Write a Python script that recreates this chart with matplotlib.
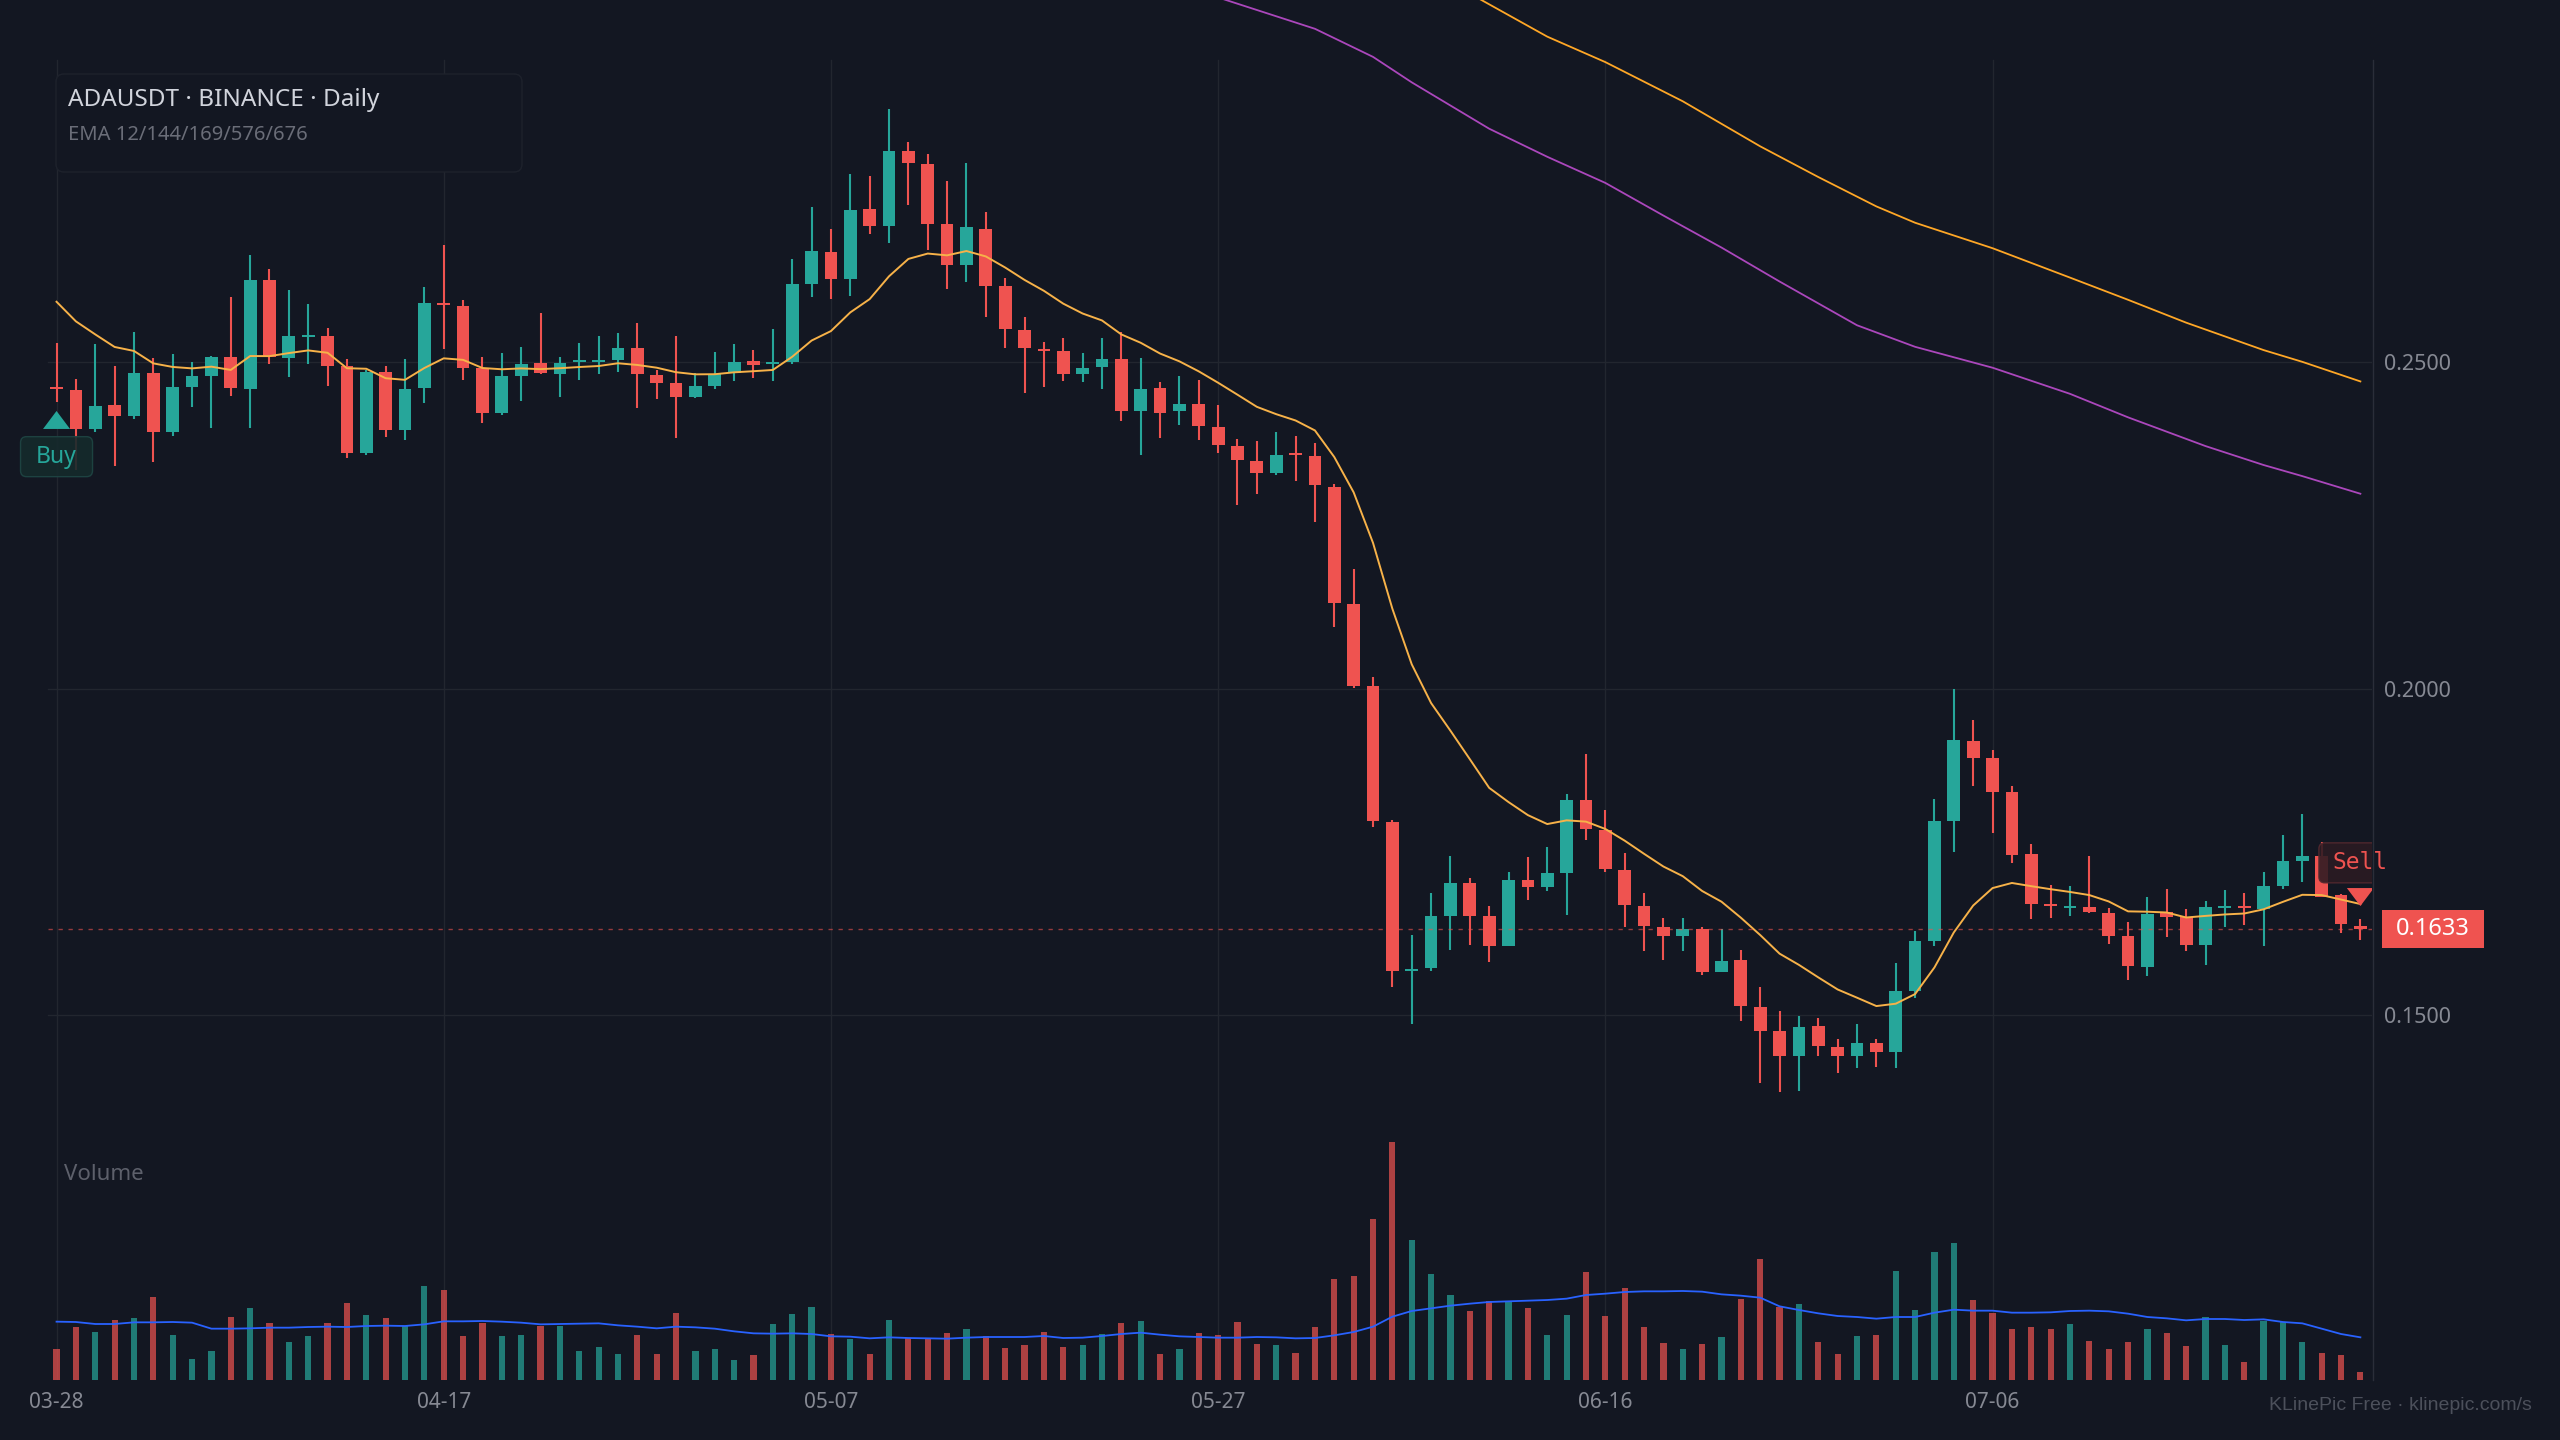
import numpy as np
import matplotlib
matplotlib.use('Agg')
import matplotlib.pyplot as plt
from matplotlib.patches import FancyBboxPatch, Rectangle, Polygon
from matplotlib.lines import Line2D
from matplotlib.transforms import ScaledTranslation, blended_transform_factory

plt.rcParams['font.family'] = ['Noto Sans', 'DejaVu Sans']

# ---- data ----
date_labels = ['03-28', '04-17', '05-07', '05-27', '06-16', '07-06']
date_every = 20

opens = [0.2460, 0.2458, 0.2398, 0.2435, 0.2418, 0.2484, 0.2394, 0.2463, 0.2479, 0.2509,
         0.2460, 0.2627, 0.2507, 0.2539, 0.2541, 0.2495, 0.2362, 0.2486, 0.2396, 0.2461,
         0.2590, 0.2586, 0.2491, 0.2423, 0.2479, 0.2499, 0.2483, 0.2501, 0.2501, 0.2504,
         0.2522, 0.2481, 0.2468, 0.2447, 0.2464, 0.2484, 0.2502, 0.2497, 0.2501, 0.2620,
         0.2669, 0.2628, 0.2735, 0.2709, 0.2824, 0.2804, 0.2712, 0.2649, 0.2705, 0.2617,
         0.2549, 0.2520, 0.2517, 0.2482, 0.2493, 0.2506, 0.2425, 0.2461, 0.2425, 0.2436,
         0.2401, 0.2372, 0.2349, 0.2331, 0.2360, 0.2357, 0.2310, 0.2130, 0.2004, 0.1797,
         0.1568, 0.1573, 0.1652, 0.1703, 0.1652, 0.1607, 0.1707, 0.1697, 0.1718, 0.1830,
         0.1784, 0.1723, 0.1668, 0.1636, 0.1621, 0.1633, 0.1566, 0.1585, 0.1513, 0.1476,
         0.1438, 0.1484, 0.1452, 0.1438, 0.1458, 0.1444, 0.1538, 0.1614, 0.1798, 0.1920,
         0.1895, 0.1842, 0.1747, 0.1670, 0.1664, 0.1666, 0.1657, 0.1621, 0.1575, 0.1658,
         0.1651, 0.1608, 0.1665, 0.1666, 0.1663, 0.1698, 0.1737, 0.1744, 0.1684, 0.1637]
highs = [0.2530, 0.2474, 0.2529, 0.2494, 0.2547, 0.2507, 0.2513, 0.2500, 0.2510, 0.2601,
         0.2664, 0.2643, 0.2611, 0.2589, 0.2553, 0.2506, 0.2488, 0.2495, 0.2505, 0.2615,
         0.2680, 0.2596, 0.2509, 0.2514, 0.2524, 0.2576, 0.2509, 0.2530, 0.2540, 0.2545,
         0.2561, 0.2489, 0.2541, 0.2484, 0.2516, 0.2528, 0.2519, 0.2551, 0.2658, 0.2738,
         0.2704, 0.2788, 0.2785, 0.2888, 0.2837, 0.2820, 0.2778, 0.2805, 0.2730, 0.2630,
         0.2570, 0.2531, 0.2537, 0.2514, 0.2537, 0.2546, 0.2507, 0.2470, 0.2480, 0.2473,
         0.2435, 0.2383, 0.2380, 0.2394, 0.2388, 0.2376, 0.2314, 0.2184, 0.2018, 0.1800,
         0.1623, 0.1687, 0.1744, 0.1711, 0.1668, 0.1719, 0.1743, 0.1758, 0.1839, 0.1900,
         0.1814, 0.1749, 0.1688, 0.1650, 0.1650, 0.1635, 0.1633, 0.1600, 0.1543, 0.1507,
         0.1499, 0.1496, 0.1464, 0.1487, 0.1464, 0.1580, 0.1630, 0.1832, 0.2000, 0.1952,
         0.1907, 0.1852, 0.1763, 0.1700, 0.1698, 0.1744, 0.1664, 0.1643, 0.1681, 0.1694,
         0.1663, 0.1676, 0.1692, 0.1687, 0.1720, 0.1777, 0.1808, 0.1766, 0.1686, 0.1648]
lows = [0.2440, 0.2335, 0.2394, 0.2342, 0.2413, 0.2348, 0.2388, 0.2432, 0.2400, 0.2448,
        0.2400, 0.2498, 0.2478, 0.2498, 0.2464, 0.2354, 0.2359, 0.2386, 0.2381, 0.2438,
        0.2520, 0.2473, 0.2407, 0.2419, 0.2441, 0.2482, 0.2447, 0.2473, 0.2482, 0.2486,
        0.2431, 0.2444, 0.2384, 0.2445, 0.2460, 0.2471, 0.2476, 0.2471, 0.2498, 0.2601,
        0.2597, 0.2602, 0.2696, 0.2683, 0.2741, 0.2672, 0.2612, 0.2624, 0.2569, 0.2522,
        0.2454, 0.2463, 0.2472, 0.2470, 0.2459, 0.2411, 0.2359, 0.2385, 0.2404, 0.2382,
        0.2361, 0.2281, 0.2299, 0.2328, 0.2319, 0.2255, 0.2095, 0.2002, 0.1789, 0.1544,
        0.1487, 0.1568, 0.1600, 0.1608, 0.1582, 0.1607, 0.1677, 0.1690, 0.1654, 0.1768,
        0.1719, 0.1636, 0.1598, 0.1585, 0.1599, 0.1562, 0.1566, 0.1492, 0.1396, 0.1383,
        0.1385, 0.1438, 0.1412, 0.1419, 0.1421, 0.1420, 0.1527, 0.1606, 0.1750, 0.1851,
        0.1780, 0.1733, 0.1648, 0.1650, 0.1652, 0.1657, 0.1610, 0.1554, 0.1560, 0.1620,
        0.1599, 0.1578, 0.1635, 0.1639, 0.1607, 0.1694, 0.1704, 0.1681, 0.1627, 0.1615]
closes = [0.2459, 0.2398, 0.2433, 0.2418, 0.2484, 0.2394, 0.2463, 0.2479, 0.2508, 0.2461,
          0.2627, 0.2509, 0.2540, 0.2541, 0.2495, 0.2361, 0.2486, 0.2396, 0.2460, 0.2591,
          0.2588, 0.2491, 0.2423, 0.2479, 0.2498, 0.2484, 0.2499, 0.2503, 0.2503, 0.2522,
          0.2482, 0.2469, 0.2447, 0.2464, 0.2483, 0.2501, 0.2496, 0.2499, 0.2620, 0.2670,
          0.2628, 0.2734, 0.2709, 0.2824, 0.2805, 0.2712, 0.2649, 0.2707, 0.2617, 0.2552,
          0.2522, 0.2518, 0.2482, 0.2492, 0.2506, 0.2425, 0.2460, 0.2423, 0.2436, 0.2402,
          0.2373, 0.2350, 0.2330, 0.2359, 0.2358, 0.2312, 0.2131, 0.2004, 0.1798, 0.1568,
          0.1570, 0.1652, 0.1703, 0.1653, 0.1607, 0.1707, 0.1697, 0.1718, 0.1830, 0.1786,
          0.1724, 0.1669, 0.1637, 0.1621, 0.1632, 0.1566, 0.1584, 0.1515, 0.1477, 0.1438,
          0.1483, 0.1453, 0.1438, 0.1458, 0.1444, 0.1538, 0.1614, 0.1798, 0.1922, 0.1895,
          0.1842, 0.1746, 0.1671, 0.1668, 0.1666, 0.1658, 0.1621, 0.1576, 0.1656, 0.1651,
          0.1608, 0.1666, 0.1667, 0.1664, 0.1698, 0.1737, 0.1744, 0.1682, 0.1640, 0.1633]

volumes = [93, 158, 143, 180, 186, 249, 136, 64, 87, 188,
           215, 171, 114, 131, 171, 231, 194, 186, 162, 282,
           269, 132, 172, 131, 134, 162, 161, 88, 98, 78,
           135, 77, 201, 86, 94, 59, 75, 167, 198, 219,
           138, 123, 77, 179, 126, 126, 141, 153, 131, 96,
           105, 144, 99, 105, 137, 171, 177, 79, 92, 140,
           135, 175, 107, 104, 80, 158, 302, 311, 482, 713,
           420, 318, 254, 207, 236, 236, 215, 135, 194, 324,
           192, 276, 158, 111, 92, 108, 128, 243, 362, 220,
           228, 114, 78, 133, 134, 326, 210, 384, 410, 241,
           201, 152, 158, 152, 168, 118, 94, 115, 153, 141,
           103, 189, 106, 54, 177, 175, 114, 82, 76, 23]
volume_ma = [175, 174, 168, 168, 173, 173, 174, 172, 154, 154,
             155, 157, 157, 159, 160, 159, 162, 163, 162, 167,
             176, 176, 177, 175, 172, 167, 168, 169, 170, 164,
             160, 155, 160, 158, 154, 146, 140, 139, 140, 138,
             131, 130, 125, 128, 126, 125, 124, 127, 129, 129,
             129, 132, 126, 127, 132, 138, 142, 136, 131, 129,
             127, 127, 129, 128, 125, 126, 134, 144, 160, 190,
             207, 215, 223, 229, 234, 236, 238, 240, 244, 255,
             259, 264, 266, 266, 267, 265, 257, 253, 247, 221,
             210, 200, 192, 189, 184, 189, 189, 202, 211, 208,
             208, 202, 202, 203, 207, 208, 206, 199, 189, 185,
             179, 183, 183, 180, 182, 174, 170, 154, 138, 128]

ema12_start = 0.2593
ema144_idx = [60, 65, 68, 70, 74, 77, 80, 83, 86, 89, 93, 96, 100, 104, 107, 111, 114, 116, 119]
ema144 = [0.3059, 0.3011, 0.2968, 0.2929, 0.2858, 0.2815, 0.2775, 0.2725, 0.2676, 0.2624,
          0.2557, 0.2524, 0.2492, 0.2452, 0.2416, 0.2372, 0.2343, 0.2326, 0.2299]
ema169_idx = [73, 77, 80, 84, 88, 91, 94, 96, 100, 104, 107, 110, 114, 116, 119]
ema169 = [0.3065, 0.2999, 0.2960, 0.2900, 0.2831, 0.2784, 0.2739, 0.2714, 0.2675, 0.2630,
          0.2596, 0.2561, 0.2519, 0.2501, 0.2471]

price_ticks = [0.15, 0.20, 0.25]

# ---- style ----
BG = '#131722'
GRID = '#22262f'
UP = '#26a69a'
DOWN = '#ef5350'

n = len(closes)
x = np.arange(n)
o = np.array(opens); c = np.array(closes)
h = np.array(highs); l = np.array(lows)
up = c >= o
cols = np.where(up, UP, DOWN)

ema12 = [ema12_start]
for v in closes[1:]:
    ema12.append(ema12[-1] + (v - ema12[-1]) * 2 / 13)

fig = plt.figure(figsize=(25.6, 14.4), dpi=100, facecolor=BG)
W, H = 2560, 1440
rect = [0, 1 - 1380 / H, 2372 / W, 1380 / H]
ax = fig.add_axes(rect)
ax.set_facecolor(BG)
for s in ax.spines.values():
    s.set_visible(False)

ax.set_xlim(-2.92, 119.6)
ax.set_ylim(0.09418, 0.30551)

# grid
for t in price_ticks:
    ax.axhline(t, xmin=48 / 2372, xmax=1, color=GRID, lw=1.0, zorder=0)
for i in range(len(date_labels)):
    ax.axvline(i * date_every, ymin=0, ymax=(1380 - 60) / 1380, color=GRID, lw=1.0, zorder=0)
fig.add_artist(Line2D([2372.5 / W] * 2, [1 - 1380 / H, 1 - 60 / H], color='#2a2e39', lw=1.0))

# candles
ax.vlines(x, l, h, colors=cols, lw=1.5, zorder=2)
body_h = np.maximum(np.abs(c - o), 0.0003)
ax.bar(x, body_h, bottom=np.minimum(o, c), width=0.66, color=cols, lw=0, zorder=3)

# EMAs
ax.plot(x, ema12, color='#f7b249', lw=1.4, zorder=4)
ax.plot(ema144_idx, ema144, color='#ab47bc', lw=1.3, zorder=4)
ax.plot(ema169_idx, ema169, color='#ffa726', lw=1.3, zorder=4)

# last price line
ax.axhline(closes[-1], xmin=48 / 2372, xmax=1, color=DOWN, alpha=0.6, lw=1.0,
           dashes=(3.1, 4.1), zorder=5)

# axis labels
ax.set_yticks(price_ticks)
ax.set_yticklabels([f'{t:.4f}' for t in price_ticks])
ax.yaxis.set_ticks_position('right')
ax.tick_params(axis='y', length=0, pad=8.5, labelsize=15.5, labelcolor='#868993')
ax.set_xticks([i * date_every for i in range(len(date_labels))])
ax.set_xticklabels(date_labels)
ax.tick_params(axis='x', length=0, pad=9, labelsize=15, labelcolor='#868993')

# volume pane
axv = fig.add_axes(rect, sharex=ax)
axv.patch.set_alpha(0)
axv.axis('off')
axv.set_ylim(0, 1380 * 3)
axv.bar(x, volumes, width=0.32, color=cols, alpha=0.7, lw=0)
axv.plot(x, volume_ma, color='#2962ff', lw=1.3)

# buy / sell signals (offsets in inches from the anchor candle)
def anchor(xv, yv):
    return fig.dpi_scale_trans + ScaledTranslation(xv, yv, ax.transData)

tb = anchor(0, lows[0])
ax.add_patch(Polygon([(-0.135, -0.273), (0.135, -0.273), (0, -0.093)], closed=True,
                     transform=tb, color=UP, lw=0, zorder=6))
ax.add_patch(FancyBboxPatch((-0.36, -0.75), 0.72, 0.40, boxstyle='round,pad=0,rounding_size=0.06',
                            transform=tb, facecolor='#152a2c', edgecolor='#1f4644', lw=1.0,
                            alpha=0.9, zorder=6))
ax.text(0, -0.55, 'Buy', transform=tb, ha='center', va='center', color=UP,
        fontsize=16.5, zorder=7)

ts = anchor(n - 1, highs[-1])
ax.add_patch(Polygon([(-0.135, 0.308), (0.135, 0.308), (0, 0.128)], closed=True,
                     transform=ts, color=DOWN, lw=0, zorder=6))
ax.add_patch(FancyBboxPatch((-0.415, 0.36), 0.83, 0.40, boxstyle='round,pad=0,rounding_size=0.06',
                            transform=ts, facecolor='#2b1b22', edgecolor='#55292f', lw=1.0,
                            alpha=0.88, zorder=6))
ax.text(0, 0.56, 'Sell', transform=ts, ha='center', va='center', color=DOWN,
        fontsize=16.5, family='DejaVu Sans Mono', zorder=7)

# last price tag
tp = fig.dpi_scale_trans + ScaledTranslation(0, closes[-1],
                                             blended_transform_factory(fig.transFigure, ax.transData))
fig.add_artist(Rectangle((23.82, -0.19), 1.02, 0.38, transform=tp, facecolor=DOWN, lw=0))
fig.text(24.33, 0, f'{closes[-1]:.4f}', transform=tp, ha='center', va='center',
         color='white', fontsize=17)

# header box
fig.add_artist(FancyBboxPatch((0.56, 12.68), 4.66, 0.98, boxstyle='round,pad=0,rounding_size=0.08',
                              transform=fig.dpi_scale_trans, facecolor=BG, edgecolor='#1e222c', lw=1.0))
fig.text(68 / W, 1 - 106 / H, 'ADAUSDT · BINANCE · Daily', color='#d1d4dc',
         fontsize=17.5, va='baseline', ha='left')
fig.text(68 / W, 1 - 140 / H, 'EMA 12/144/169/576/676', color='#6a6d78',
         fontsize=14.5, va='baseline', ha='left')

fig.text(64 / W, 1 - 1174 / H, 'Volume', color='#5d606b', fontsize=16, va='center', ha='left')
fig.text(2532 / W, 1 - 1406 / H, 'KLinePic Free · klinepic.com/s', color='#4c505b',
         fontsize=14, va='center', ha='right', family=['Liberation Sans', 'DejaVu Sans'])

fig.savefig('out.png', dpi=100, facecolor=BG)
